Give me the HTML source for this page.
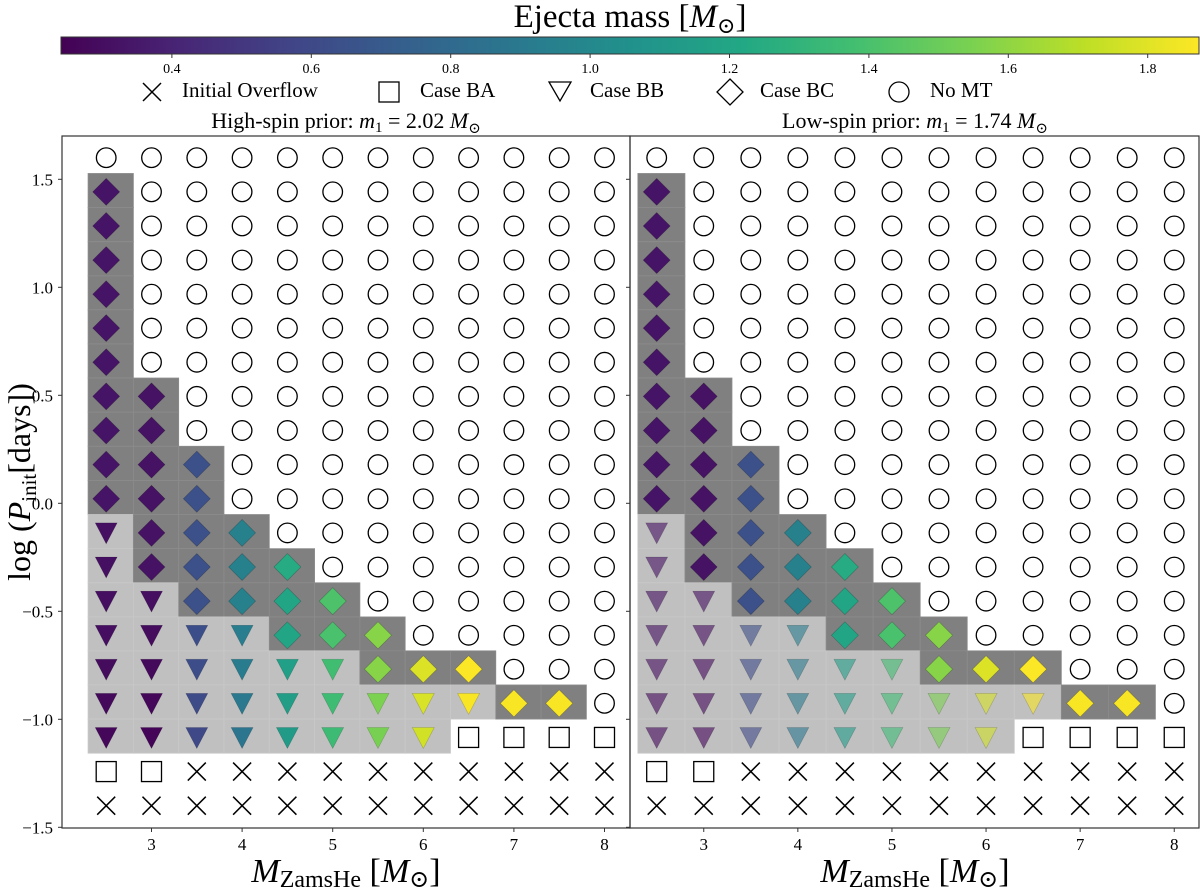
<!DOCTYPE html>
<html><head><meta charset="utf-8"><style>
html,body{margin:0;padding:0;background:#fff;}
svg{display:block;font-family:"Liberation Serif","DejaVu Serif",serif;}
</style></head><body>
<svg id="fig" width="1200" height="888" viewBox="0 0 1200 888" xmlns="http://www.w3.org/2000/svg">
<defs>
<linearGradient id="vir" x1="0" x2="1" y1="0" y2="0">
<stop offset="0" stop-color="#440154"/><stop offset="0.1" stop-color="#482475"/><stop offset="0.2" stop-color="#414487"/><stop offset="0.3" stop-color="#355f8d"/><stop offset="0.4" stop-color="#2a788e"/><stop offset="0.5" stop-color="#21918c"/><stop offset="0.6" stop-color="#22a884"/><stop offset="0.7" stop-color="#44bf70"/><stop offset="0.8" stop-color="#7ad151"/><stop offset="0.9" stop-color="#bddf26"/><stop offset="1" stop-color="#fde725"/>
</linearGradient>
</defs>
<text x="630" y="27" font-size="33" text-anchor="middle">Ejecta mass [<tspan font-style="italic">M</tspan><tspan font-size="22" dy="6">⊙</tspan><tspan dy="-6">]</tspan></text>
<rect x="61" y="37" width="1138" height="17" fill="url(#vir)" stroke="#333" stroke-width="1"/>
<g id="cbticks"></g>
<g font-size="21">
<g><path d="M143,83 L161,101 M161,83 L143,101" stroke="#000" stroke-width="1.5"/><text x="182" y="97">Initial Overflow</text></g>
<g><rect x="379" y="82" width="20" height="20" fill="none" stroke="#000" stroke-width="1.3"/><text x="420" y="97">Case BA</text></g>
<g><path d="M549,82 L571,82 L560,101 Z" fill="none" stroke="#000" stroke-width="1.3"/><text x="590" y="97">Case BB</text></g>
<g><path d="M730,79 L743,92 L730,105 L717,92 Z" fill="none" stroke="#000" stroke-width="1.3"/><text x="760" y="97">Case BC</text></g>
<g><circle cx="899" cy="92" r="10" fill="none" stroke="#000" stroke-width="1.3"/><text x="930" y="97">No MT</text></g>
</g>
<text x="346" y="128" font-size="22" text-anchor="middle">High-spin prior: <tspan font-style="italic">m</tspan><tspan font-size="15" dy="4">1</tspan><tspan dy="-4"> = 2.02 </tspan><tspan font-style="italic">M</tspan><tspan font-size="15" dy="5">⊙</tspan></text>
<text x="915" y="128" font-size="22" text-anchor="middle">Low-spin prior: <tspan font-style="italic">m</tspan><tspan font-size="15" dy="4">1</tspan><tspan dy="-4"> = 1.74 </tspan><tspan font-style="italic">M</tspan><tspan font-size="15" dy="5">⊙</tspan></text>
<g id="panelL"></g>
<g id="panelR"></g>
<text transform="translate(30,482) rotate(-90)" font-size="32" text-anchor="middle">log (<tspan font-style="italic">P</tspan><tspan font-size="21" dy="6">init</tspan><tspan dy="-6">[days])</tspan></text>
<text x="346" y="882" font-size="34" text-anchor="middle"><tspan font-style="italic">M</tspan><tspan font-size="24" dy="5">ZamsHe</tspan><tspan dy="-5"> [</tspan><tspan font-style="italic">M</tspan><tspan font-size="24" dy="5">⊙</tspan><tspan dy="-5">]</tspan></text>
<text x="915" y="882" font-size="34" text-anchor="middle"><tspan font-style="italic">M</tspan><tspan font-size="24" dy="5">ZamsHe</tspan><tspan dy="-5"> [</tspan><tspan font-style="italic">M</tspan><tspan font-size="24" dy="5">⊙</tspan><tspan dy="-5">]</tspan></text>
</svg>
<script>
// ---- data ----
const masses = [2.5,3.0,3.5,4.0,4.5,5.0,5.5,6.0,6.5,7.0,7.5,8.0];
const logP = [1.6,1.442,1.284,1.126,0.968,0.811,0.653,0.495,0.337,0.179,0.021,-0.137,-0.295,-0.453,-0.611,-0.768,-0.926,-1.084,-1.242,-1.4];
// X=initial overflow, S=case BA, T=case BB, D=case BC, O=no MT
const typesLeft = [
"OOOOOOOOOOOO",
"DOOOOOOOOOOO",
"DOOOOOOOOOOO",
"DOOOOOOOOOOO",
"DOOOOOOOOOOO",
"DOOOOOOOOOOO",
"DOOOOOOOOOOO",
"DDOOOOOOOOOO",
"DDOOOOOOOOOO",
"DDDOOOOOOOOO",
"DDDOOOOOOOOO",
"TDDDOOOOOOOO",
"TDDDDOOOOOOO",
"TTDDDDOOOOOO",
"TTTTDDDOOOOO",
"TTTTTTDDDOOO",
"TTTTTTTTTDDO",
"TTTTTTTTSSSS",
"SSXXXXXXXXXX",
"XXXXXXXXXXXX"];
const typesRight = typesLeft.slice();
const ejectaLeft = [
[0,0,0,0,0,0,0,0,0,0,0,0],
[0.33,0,0,0,0,0,0,0,0,0,0,0],
[0.33,0,0,0,0,0,0,0,0,0,0,0],
[0.33,0,0,0,0,0,0,0,0,0,0,0],
[0.33,0,0,0,0,0,0,0,0,0,0,0],
[0.33,0,0,0,0,0,0,0,0,0,0,0],
[0.33,0,0,0,0,0,0,0,0,0,0,0],
[0.33,0.32,0,0,0,0,0,0,0,0,0,0],
[0.33,0.32,0,0,0,0,0,0,0,0,0,0],
[0.33,0.32,0.64,0,0,0,0,0,0,0,0,0],
[0.33,0.32,0.64,0,0,0,0,0,0,0,0,0],
[0.31,0.32,0.64,0.95,0,0,0,0,0,0,0,0],
[0.31,0.32,0.64,0.95,1.24,0,0,0,0,0,0,0],
[0.30,0.30,0.64,0.95,1.2,1.41,0,0,0,0,0,0],
[0.30,0.29,0.63,0.93,1.2,1.40,1.58,0,0,0,0,0],
[0.29,0.28,0.62,0.92,1.16,1.37,1.58,1.79,1.87,0,0,0],
[0.28,0.27,0.61,0.90,1.15,1.36,1.55,1.78,1.86,1.86,1.86,0],
[0.27,0.26,0.60,0.88,1.13,1.35,1.54,1.76,0,0,0,0],
[0,0,0,0,0,0,0,0,0,0,0,0],
[0,0,0,0,0,0,0,0,0,0,0,0]];
const ejectaRight = ejectaLeft.map(r=>r.slice());
const xTicks = [3,4,5,6,7,8];
const yTicks = [1.5,1.0,0.5,0.0,-0.5,-1.0,-1.5];
const yTickLabels = ["1.5","1.0","0.5","0.0","\u22120.5","\u22121.0","\u22121.5"];
const cbTicks = [0.4,0.6,0.8,1.0,1.2,1.4,1.6,1.8];
const cbTickLabels = ["0.4","0.6","0.8","1.0","1.2","1.4","1.6","1.8"];
// ---- scales ----
const VMIN=0.241, VMAX=1.874;
const NS="http://www.w3.org/2000/svg";
const vir=["#440154","#482475","#414487","#355f8d","#2a788e","#21918c","#22a884","#44bf70","#7ad151","#bddf26","#fde725"];
function hex(h){return [1,3,5].map(i=>parseInt(h.substr(i,2),16));}
function viridis(v){let t=(v-VMIN)/(VMAX-VMIN);t=Math.max(0,Math.min(1,t));const f=t*10;const i=Math.min(9,Math.floor(f));const a=hex(vir[i]),b=hex(vir[i+1]);const u=f-i;return "rgb("+a.map((c,k)=>Math.round(c+(b[k]-c)*u)).join(",")+")";}
const yScale = p => 503.3 - 216*p;
function cbX(v){return 1147.7 + (v-1.8)*697;}
function el(tag,attrs,parent){const e=document.createElementNS(NS,tag);for(const k in attrs)e.setAttribute(k,attrs[k]);parent.appendChild(e);return e;}
// colorbar ticks
const cbg=document.getElementById('cbticks');
cbTicks.forEach((v,i)=>{
  const x=cbX(v);
  const t=el('line',{x1:x,x2:x,y1:54,y2:58,stroke:'#333','stroke-width':1},cbg);
  
  
  const lb=el('text',{x:x,y:73,'font-size':14,'text-anchor':'middle'},cbg);
  lb.textContent=cbTickLabels[i];
  
  
});
function drawPanel(g,types,ej,x0,pxu,box,alphaTri,showYLabels,side){
  const xs = m => x0 + (m-2.5)*pxu;
  // background cells
  types.forEach((row,ri)=>{
    for(let ci=0;ci<masses.length;ci++){
      const c=row[ci];
      if(c==='D'||c==='T'){
        const r=el('rect',{x:xs(masses[ci]-0.2),y:yScale(logP[ri]+0.085),width:0.5*pxu,height:216*0.158,fill:c==='D'?'#808080':'#c0c0c0',stroke:c==='D'?'#8c8c8c':'#c8c8c8','stroke-width':0.8},g);
        
        
      }
    }
  });
  // markers
  types.forEach((row,ri)=>{
    for(let ci=0;ci<masses.length;ci++){
      const c=row[ci];const x=xs(masses[ci]);const y=yScale(logP[ri]);let m;
      if(c==='O'){m=el('circle',{cx:x,cy:y,r:9.8,fill:'none',stroke:'#000','stroke-width':1.3},g);
        }
      else if(c==='S'){m=el('rect',{x:x-10,y:y-10,width:20,height:20,fill:'none',stroke:'#000','stroke-width':1.3},g);
        }
      else if(c==='X'){m=el('path',{d:`M${x-9},${y-9}L${x+9},${y+9}M${x+9},${y-9}L${x-9},${y+9}`,stroke:'#000','stroke-width':1.5,fill:'none'},g);
        }
      else if(c==='D'){m=el('path',{d:`M${x},${y-13.5}L${x+13.5},${y}L${x},${y+13.5}L${x-13.5},${y}Z`,fill:viridis(ej[ri][ci]),stroke:'rgba(0,0,0,0.25)','stroke-width':0.6},g);
        }
      else if(c==='T'){m=el('path',{d:`M${x-11},${y-10}L${x+11},${y-10}L${x},${y+11}Z`,fill:viridis(ej[ri][ci]),'fill-opacity':alphaTri,stroke:'rgba(0,0,0,0.2)','stroke-width':0.6},g);
        }

    }
  });
  // frame
  const f=el('rect',{x:box[0],y:box[1],width:box[2]-box[0],height:box[3]-box[1],fill:'none',stroke:'#333','stroke-width':1.2},g);
  
  
  xTicks.forEach(v=>{
    const x=xs(v);
    const t=el('line',{x1:x,x2:x,y1:box[3],y2:box[3]+4,stroke:'#333','stroke-width':1},g);
    
    
    const lb=el('text',{x:x,y:850,'font-size':17,'text-anchor':'middle'},g);
    lb.textContent=String(v);
    
    
  });
  yTicks.forEach((v,i)=>{
    const y=yScale(v);
    const t=el('line',{x1:box[0]-4,x2:box[0],y1:y,y2:y,stroke:'#333','stroke-width':1},g);
    
    
    if(showYLabels){
      const lb=el('text',{x:box[0]-9,y:y+6,'font-size':17,'text-anchor':'end'},g);
      lb.textContent=yTickLabels[i];
      
      
    }
  });
}
drawPanel(document.getElementById('panelL'),typesLeft,ejectaLeft,106.2,90.6,[62,136,630,828],1,true,'left');
drawPanel(document.getElementById('panelR'),typesRight,ejectaRight,656.7,94.1,[630,136,1199,828],0.6,false,'right');
</script>
</body></html>
